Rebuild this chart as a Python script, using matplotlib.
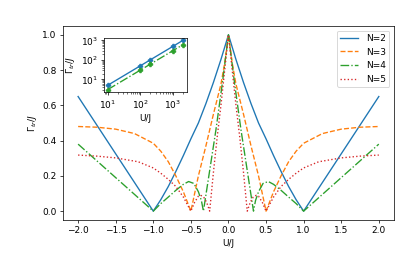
import matplotlib
matplotlib.use("Agg")
import matplotlib.pyplot as plt

# main panel: transport rate vs U/J
u_n2 = [-2.0, -1.5, -1.0, -0.9, -0.8, -0.7, -0.6, -0.5, -0.4, -0.3, -0.2,
        -0.1, 0.0, 0.1, 0.2, 0.3, 0.4, 0.5, 0.6, 0.7, 0.8, 0.9, 1.0, 1.5,
        2.0]
g_n2 = [0.65, 0.325, 0.0, 0.065, 0.14, 0.225, 0.315, 0.41, 0.50, 0.61, 0.73,
        0.86, 1.0, 0.86, 0.73, 0.61, 0.50, 0.41, 0.315, 0.225, 0.14, 0.065,
        0.0, 0.325, 0.65]

u_n3 = [-2.0, -1.75, -1.5, -1.25, -1.0, -0.9, -0.8, -0.7, -0.6, -0.5, -0.4,
        -0.3, -0.2, -0.1, -0.05, 0.0, 0.05, 0.1, 0.2, 0.3, 0.4, 0.5, 0.6,
        0.7, 0.8, 0.9, 1.0, 1.25, 1.5, 1.75, 2.0]
g_n3 = [0.48, 0.476, 0.465, 0.44, 0.385, 0.34, 0.28, 0.20, 0.11, 0.0, 0.20,
        0.37, 0.55, 0.72, 0.84, 1.0, 0.84, 0.72, 0.55, 0.37, 0.20, 0.0, 0.11,
        0.20, 0.28, 0.34, 0.385, 0.44, 0.465, 0.476, 0.48]

u_n4 = [-2.0, -1.5, -1.0, -0.9, -0.8, -0.7, -0.6, -0.53, -0.46, -0.4, -0.36,
        -0.333, -0.25, -0.167, -0.083, 0.0, 0.083, 0.167, 0.25, 0.333, 0.36,
        0.4, 0.46, 0.53, 0.6, 0.7, 0.8, 0.9, 1.0, 1.5, 2.0]
g_n4 = [0.38, 0.19, 0.0, 0.043, 0.08, 0.118, 0.152, 0.168, 0.157, 0.11,
        0.06, 0.0, 0.23, 0.46, 0.72, 1.0, 0.72, 0.46, 0.23, 0.0, 0.06, 0.11,
        0.157, 0.168, 0.152, 0.118, 0.08, 0.043, 0.0, 0.19, 0.38]

u_n5 = [-2.0, -1.75, -1.5, -1.2, -1.0, -0.9, -0.8, -0.7, -0.6, -0.5, -0.45,
        -0.4, -0.37, -0.33, -0.29, -0.25, -0.2, -0.15, -0.1, -0.05, 0.0,
        0.05, 0.1, 0.15, 0.2, 0.25, 0.29, 0.33, 0.37, 0.4, 0.45, 0.5, 0.6,
        0.7, 0.8, 0.9, 1.0, 1.2, 1.5, 1.75, 2.0]
g_n5 = [0.318, 0.312, 0.302, 0.28, 0.245, 0.215, 0.18, 0.14, 0.08, 0.0,
        0.05, 0.085, 0.09, 0.08, 0.05, 0.0, 0.22, 0.42, 0.60, 0.80, 1.0,
        0.80, 0.60, 0.42, 0.22, 0.0, 0.05, 0.08, 0.09, 0.085, 0.05, 0.0, 0.08,
        0.14, 0.18, 0.215, 0.245, 0.28, 0.302, 0.312, 0.318]

# inset: rate at large U (log-log)
u_big = [10, 100, 200, 1000, 2000]
g_big_n2 = [5, 50, 100, 500, 1000]
g_big_n4 = [3, 30, 60, 300, 600]


def main():
    fig = plt.figure(figsize=(415 / 65, 4.0), dpi=65)
    ax = fig.add_axes([0.152, 0.154, 0.797, 0.746])
    ax.plot(u_n2, g_n2, "-", color="C0", label="N=2")
    ax.plot(u_n3, g_n3, "--", color="C1", label="N=3")
    ax.plot(u_n4, g_n4, "-.", color="C2", label="N=4")
    ax.plot(u_n5, g_n5, ":", color="C3", label="N=5")
    ax.set_xlabel("U/J")
    ax.set_ylabel(r"$\Gamma_{tr}/J$")
    ax.set_xticks([-2.0, -1.5, -1.0, -0.5, 0.0, 0.5, 1.0, 1.5, 2.0])
    ax.legend(loc="upper right")

    ins = fig.add_axes([0.2506, 0.646, 0.199, 0.208])
    ins.plot(u_big, g_big_n2, "-P", color="C0", markersize=5)
    ins.plot(u_big, g_big_n4, "-.P", color="C2", markersize=5)
    ins.set_xscale("log")
    ins.set_yscale("log")
    ins.set_xlabel("U/J")
    ins.set_ylabel(r"$\Gamma_{tr}/J$")

    fig.savefig("out.png", dpi=65)


if __name__ == "__main__":
    main()
